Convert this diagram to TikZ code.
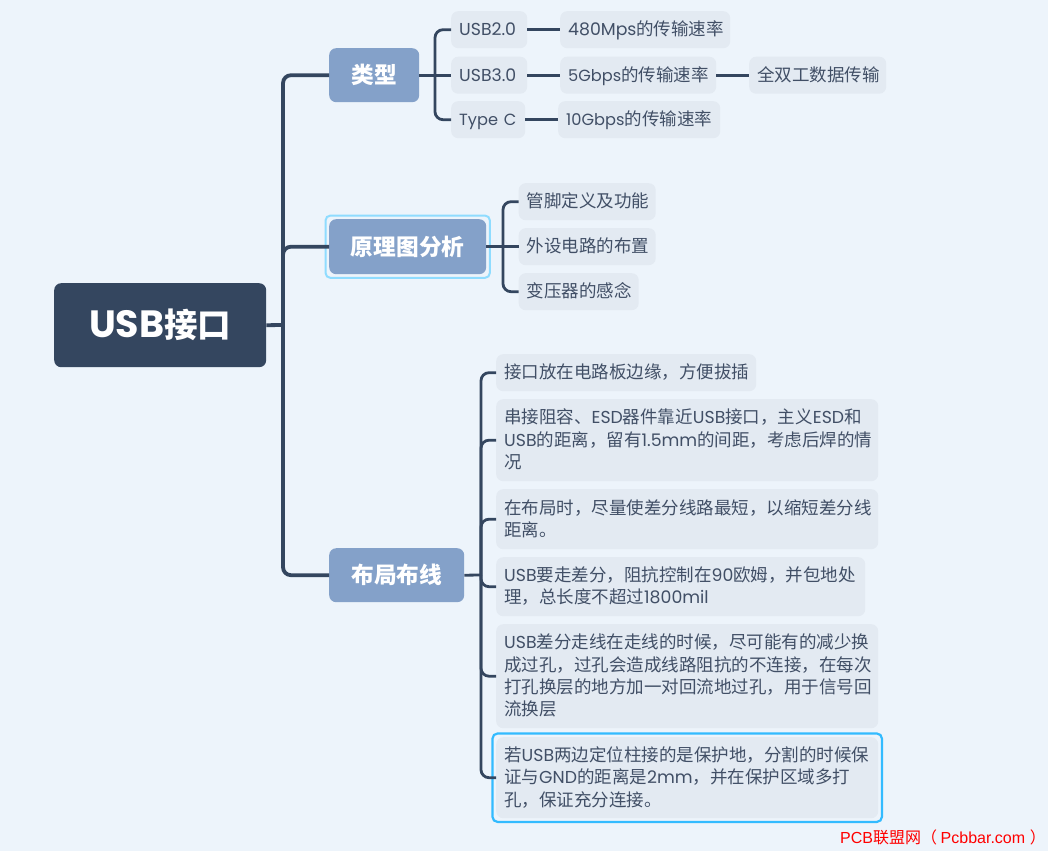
\documentclass[tikz,border=0pt]{standalone}
\usepackage{fontspec}
\setmainfont{Noto Sans CJK SC}
\newfontfamily\la{Poppins}
\newfontfamily\wm{Liberation Sans}
\newcommand{\lt}[1]{{\la\fontsize{17.3}{22}\selectfont #1}}
\newcommand{\lts}[1]{{\la\fontsize{16.2}{22}\selectfont #1}}
\newcommand{\lfix}{\rule[-4.5pt]{0pt}{21pt}}
\definecolor{mapbg}{HTML}{EDF4FB}
\definecolor{mapdark}{HTML}{34465F}
\definecolor{mapmain}{HTML}{84A1C9}
\definecolor{mapleaf}{HTML}{E3EAF2}
\definecolor{maptext}{HTML}{414F66}
\definecolor{mapsel}{HTML}{33BBFF}
\definecolor{mapsoft}{HTML}{8FDCFF}
\tikzset{
	map_root/.style = {rectangle, anchor=north west, rounded corners=7pt, fill=mapdark, text=white,
		inner sep=0pt, font=\fontsize{33.5}{36}\selectfont\bfseries},
	map_main/.style = {rectangle, anchor=north west, rounded corners=7pt, fill=mapmain, text=white,
		inner sep=0pt, font=\fontsize{22.7}{26}\selectfont\bfseries},
	map_leaf/.style = {rectangle, anchor=north west, rounded corners=7pt, fill=mapleaf, text=maptext,
		inner xsep=8pt, inner ysep=0pt, align=left, font=\fontsize{17.5}{22.3}\selectfont,
		execute at begin node=\lfix, execute at end node=\lfix},
	link_a/.style = {draw=mapdark, line width=3.8pt, rounded corners=8pt},
	link_b/.style = {draw=mapdark, line width=2.8pt, rounded corners=8pt}
}
\begin{document}
\begin{tikzpicture}[x=1pt,y=-1pt]
	\fill[mapbg] (0,0) rectangle (1048,851);
	\useasboundingbox (0,0) rectangle (1048,851);
	\node [map_root, minimum width=212pt, minimum height=84pt] (root) at (54,283) {{\la\fontsize{38}{40}\selectfont USB}接口};
	% first branch
	\node [map_main, minimum width=90pt, minimum height=54pt] (kind) at (329,48) {类型};
	\node [map_leaf, text width=60pt, minimum height=37pt] (kind_a) at (451,11) {\lt{USB2.0}};
	\node [map_leaf, text width=60pt, minimum height=37pt] (kind_b) at (451,56.5) {\lt{USB3.0}};
	\node [map_leaf, text width=58pt, minimum height=37pt] (kind_c) at (451,101) {\makebox[58pt][l]{\lts{Type C}}};
	\node [map_leaf, text width=154pt, minimum height=37pt] (rate_a) at (560,11) {\lt{480Mps}的传输速率};
	\node [map_leaf, text width=140pt, minimum height=37pt] (rate_b) at (560,56.5) {\lts{5Gbps}的传输速率};
	\node [map_leaf, text width=146pt, minimum height=37pt] (rate_c) at (558,101) {\lts{10Gbps}的传输速率};
	\node [map_leaf, text width=121pt, minimum height=37pt] (duplex) at (749,56.5) {全双工数据传输};
	% second branch
	\node [map_main, minimum width=157pt, minimum height=55pt] (prin) at (329,219) {原理图分析};
	\node [map_leaf, text width=121pt, minimum height=37pt] (prin_a) at (518.5,183) {管脚定义及功能};
	\node [map_leaf, text width=121pt, minimum height=37pt] (prin_b) at (518.5,228) {外设电路的布置};
	\node [map_leaf, text width=104pt, minimum height=37pt] (prin_c) at (518.5,273) {变压器的感念};
	% third branch
	\node [map_main, minimum width=135pt, minimum height=54pt] (layout) at (329,548) {布局布线};
	\node [map_leaf, text width=244pt, minimum height=37pt] (lay_a) at (496,354) {接口放在电路板边缘，方便拔插};
	\node [map_leaf, text width=366pt, minimum height=82pt] (lay_b) at (496,399) {串接阻容、\lt{ESD}器件靠近\lt{USB}接口，主义\lt{ESD}和\\\lt{USB}的距离，留有\lt{1.5mm}的间距，考虑后焊的情\\况};
	\node [map_leaf, text width=366pt, minimum height=60pt] (lay_c) at (496,489) {在布局时，尽量使差分线路最短，以缩短差分线\\距离。};
	\node [map_leaf, text width=353pt, minimum height=59pt] (lay_d) at (496,557) {\lt{USB}要走差分，阻抗控制在\lt{90}欧姆，并包地处\\理，总长度不超过\lt{1800mil}};
	\node [map_leaf, text width=366pt, minimum height=104pt] (lay_e) at (496,624) {\lt{USB}差分走线在走线的时候，尽可能有的减少换\\成过孔，过孔会造成线路阻抗的不连接，在每次\\打孔换层的地方加一对回流地过孔，用于信号回\\流换层};
	\node [map_leaf, text width=366pt, minimum height=81pt] (lay_f) at (496,737) {若\lt{USB}两边定位柱接的是保护地，分割的时候保\\证与\lt{GND}的距离是\lt{2mm}，并在保护区域多打\\孔，保证充分连接。};
	\node [anchor=west, text=red, inner sep=0pt, font=\fontsize{16}{18}\selectfont] (mark) at (840,837) {{\wm PCB}联盟网（ {\wm Pcbbar.com} \hspace{1pt}）};
	% selection frames
	\draw [draw=mapsoft, line width=2pt, rounded corners=5pt] ([shift={(-3.5,-3.5)}]prin.north west) rectangle ([shift={(3.5,3.5)}]prin.south east);
	\draw [draw=mapsel, line width=2.2pt, rounded corners=5pt] ([shift={(-3.5,-3.5)}]lay_f.north west) rectangle ([shift={(3.5,3.5)}]lay_f.south east);
	% connectors
	\coordinate (trunk) at (283,325);
	\coordinate (fork_a) at (435,75);
	\coordinate (fork_b) at (503,246.5);
	\coordinate (fork_c) at (481,575);
	\draw [link_a] (root.east) -- (trunk);
	\foreach \n in {kind,prin,layout}
		\draw [link_a] (trunk) |- (\n.west);
	\draw [link_b] (kind.east) -- (kind_b.west);
	\draw [link_b] (fork_a) |- (kind_a.west);
	\draw [link_b] (fork_a) |- (kind_c.west);
	\draw [link_b] (kind_a.east) -- (rate_a.west);
	\draw [link_b] (kind_b.east) -- (rate_b.west);
	\draw [link_b] (kind_c.east) -- (rate_c.west);
	\draw [link_b] (rate_b.east) -- (duplex.west);
	\draw [link_b] (prin.east) -- (prin_b.west);
	\draw [link_b] (fork_b) |- (prin_a.west);
	\draw [link_b] (fork_b) |- (prin_c.west);
	\draw [link_b] (layout.east) -- (fork_c);
	\foreach \n in {lay_a,lay_b,lay_c,lay_d,lay_e,lay_f}
		\draw [link_b] (fork_c) |- (\n.west);
\end{tikzpicture}
\end{document}
